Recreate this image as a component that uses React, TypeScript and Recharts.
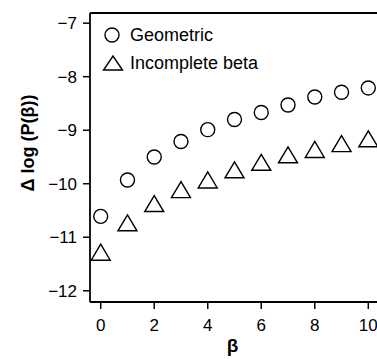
import { Label, ReferenceLine, Scatter, ScatterChart, XAxis, YAxis } from "recharts";

const BETA = [0, 1, 2, 3, 4, 5, 6, 7, 8, 9, 10];
const GEOMETRIC = [-10.61, -9.93, -9.5, -9.21, -8.99, -8.8, -8.67, -8.53, -8.38, -8.29, -8.21];
const INCOMPLETE_BETA = [-11.28, -10.73, -10.37, -10.11, -9.93, -9.74, -9.6, -9.46, -9.36, -9.25, -9.16];
const X_TICKS = [0, 2, 4, 6, 8, 10];
const Y_TICKS = [-12, -11, -10, -9, -8, -7];
const Y_TOP = -6.81;

const FONT = "'Liberation Sans', Arial, sans-serif";

const geometricRows = BETA.map((b, i) => ({ beta: b, value: GEOMETRIC[i] }));
const incompleteRows = BETA.map((b, i) => ({ beta: b, value: INCOMPLETE_BETA[i] }));

function CircleMark({ cx, cy }: { cx?: number; cy?: number }) {
  if (cx == null || cy == null) return null;
  return <circle cx={cx} cy={cy} r={7} fill="#fff" stroke="#000" strokeWidth={1.4} />;
}

function TriangleMark({ cx, cy }: { cx?: number; cy?: number }) {
  if (cx == null || cy == null) return null;
  const w = 9.5;
  const h = 8;
  return (
    <path
      d={`M${cx},${cy - h}L${cx + w},${cy + h}L${cx - w},${cy + h}Z`}
      fill="#fff"
      stroke="#000"
      strokeWidth={1.4}
    />
  );
}

// legend drawn as an overlay so it doesn't eat into the plot area
function LegendBox() {
  return (
    <div
      style={{
        position: "absolute",
        left: 102,
        top: 21,
        fontFamily: FONT,
        fontSize: 18,
        color: "#000",
        lineHeight: "28px",
      }}
    >
      <div style={{ display: "flex", alignItems: "center", gap: 8 }}>
        <svg width={20} height={20}>
          <circle cx={10} cy={10} r={7} fill="#fff" stroke="#000" strokeWidth={1.4} />
        </svg>
        Geometric
      </div>
      <div style={{ display: "flex", alignItems: "center", gap: 6 }}>
        <svg width={22} height={20}>
          <path d="M11,3L20.5,17L1.5,17Z" fill="#fff" stroke="#000" strokeWidth={1.4} />
        </svg>
        Incomplete beta
      </div>
    </div>
  );
}

export default function App() {
  return (
    <div style={{ position: "absolute", left: 0, top: 0, width: 377, height: 359, overflow: "hidden", background: "#fff" }}>
      <ScatterChart width={390} height={359} margin={{ top: 13, right: 11, bottom: 0, left: 0 }}>
        <XAxis
          type="number"
          dataKey="beta"
          domain={[-0.4, 10.4]}
          ticks={X_TICKS}
          height={57}
          tickSize={7}
          tickMargin={10}
          axisLine={{ stroke: "#000", strokeWidth: 1.8 }}
          tickLine={{ stroke: "#000", strokeWidth: 1.5 }}
          tick={{ fill: "#000", fontSize: 17, fontFamily: FONT }}
        >
          <Label
            content={({ viewBox }: any) => (
              <text
                x={viewBox.x + viewBox.width / 2 - 2}
                y={352}
                textAnchor="middle"
                fontFamily={FONT}
                fontWeight="bold"
                fontSize={19}
                fill="#000"
              >
                β
              </text>
            )}
          />
        </XAxis>
        <YAxis
          type="number"
          dataKey="value"
          domain={[-12.21, Y_TOP]}
          ticks={Y_TICKS}
          width={90}
          tickSize={7}
          tickMargin={6}
          allowDataOverflow
          tickFormatter={(v: number) => (v < 0 ? `\u2212${Math.abs(v)}` : `${v}`)}
          axisLine={{ stroke: "#000", strokeWidth: 1.8 }}
          tickLine={{ stroke: "#000", strokeWidth: 1.5 }}
          tick={{ fill: "#000", fontSize: 17, fontFamily: FONT }}
        >
          <Label
            content={() => (
              <text
                x={34}
                y={143}
                transform="rotate(-90 34 143)"
                textAnchor="middle"
                fontFamily={FONT}
                fontWeight="bold"
                fontSize={18}
                fill="#000"
              >
                Δ log (P(β))
              </text>
            )}
          />
        </YAxis>
        <ReferenceLine y={Y_TOP} stroke="#000" strokeWidth={1.8} />
        <Scatter name="Geometric" data={geometricRows} shape={CircleMark} isAnimationActive={false} />
        <Scatter name="Incomplete beta" data={incompleteRows} shape={TriangleMark} isAnimationActive={false} />
      </ScatterChart>
      <LegendBox />
    </div>
  );
}
